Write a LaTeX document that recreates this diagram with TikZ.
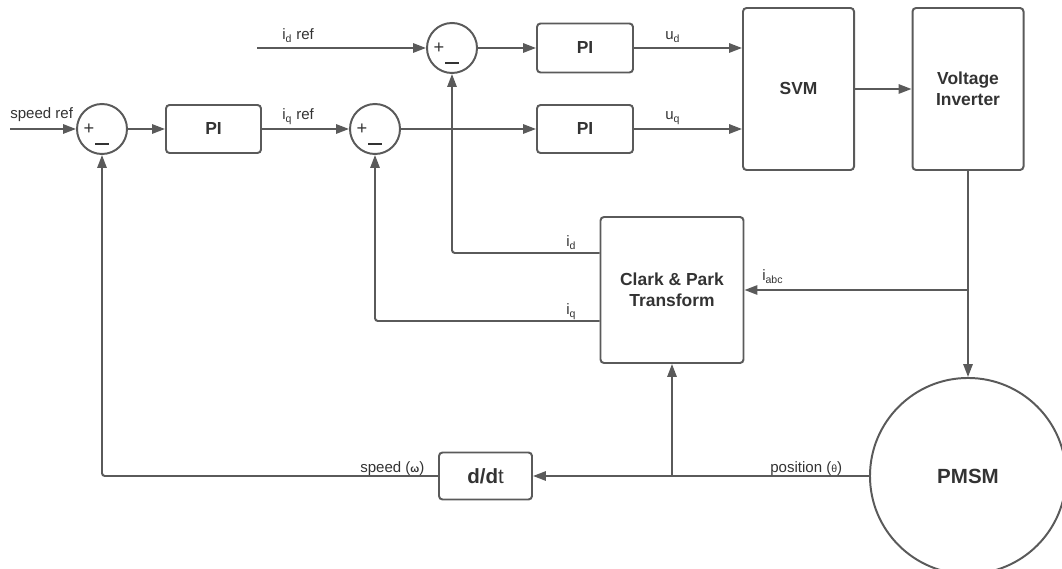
\documentclass[tikz,border=0pt]{standalone}
\usepackage{fontspec}
\setmainfont{Liberation Sans}
\usepackage{xcolor}
\usetikzlibrary{arrows.meta,positioning,calc}
\definecolor{ln}{HTML}{5A5A5A}
\definecolor{tx}{HTML}{333333}
\tikzset{
  blk/.style 2 args={draw=ln, line width=1.4pt, rounded corners=2.5pt, align=center, text=tx,
    inner sep=0pt, font=\fontsize{12.4}{15}\selectfont\bfseries,
    minimum width=#1*0.025cm, minimum height=#2*0.025cm},
  big/.style={font=\fontsize{14.6}{17}\selectfont\bfseries},
  sumnode/.style={draw=ln, circle, line width=1.4pt, minimum size=1.25cm, inner sep=0pt},
  sgn/.style={text=tx, font=\fontsize{13}{13}\selectfont, inner sep=0pt},
  bar/.style={draw=tx, line width=1.5pt},
  sig/.style={draw=ln, line width=1.4pt, rounded corners=2pt, -{Triangle[length=3.2mm, width=2.3mm]}},
  lbl/.style={text=tx, font=\fontsize{10.7}{12}\selectfont, inner sep=0pt, anchor=base west},
}
\newcommand{\sumj}[3]{%
  \node[sumnode] (#1) at (#2,#3) {};
  \node[sgn] at ($(#1)+(-13,0)$) {+};
  \draw[bar] ($(#1)+(-7,15)$) -- ($(#1)+(7,15)$);
}
\newcommand{\sub}[1]{\textsubscript{#1}}
\newcommand{\gk}[1]{{\fontsize{7.5}{9}\selectfont #1}}

\begin{document}
\begin{tikzpicture}[x=0.025cm, y=-0.025cm]
  \useasboundingbox (0,0) rectangle (1062,569);
  \clip (0,0) rectangle (1062,569);
  % summing junctions
  \sumj{s1}{102}{129}
  \sumj{s2}{375}{129}
  \sumj{s3}{452}{48}
  % blocks
  \node[blk={95}{48}] (pis) at (213.5,129) {PI};
  \node[blk={96}{49}] (pid) at (585,48) {PI};
  \node[blk={96}{48}] (piq) at (585,129) {PI};
  \node[blk={111}{162}] (svm) at (798.5,89) {SVM};
  \node[blk={111}{162}] (vi) at (968,89) {Voltage\\Inverter};
  \node[blk={143}{146}] (cp) at (672,290) {Clark \& Park\\Transform};
  \node[blk={93}{47}, big] (ddt) at (485.5,476) {d/d\textmd{t}};
  \node[draw=ln, circle, line width=1.4pt, minimum size=4.9cm, inner sep=0pt, text=tx, big] (pmsm) at (968,476) {PMSM};
  % free ends
  \coordinate (sref) at (10,129);
  \coordinate (idref) at (257,48);
  \coordinate (tap) at (968,290);
  \coordinate (ptap) at (cp.south |- pmsm.west);
  % forward path
  \draw[sig] (sref) -- (s1.west);
  \draw[sig] (s1.east) -- (pis.west);
  \draw[sig] (pis.east) -- (s2.west);
  \draw[sig] (idref) -- (s3.west);
  \draw[sig] (s3.east) -- (pid.west);
  \draw[sig] (s2.east) -- (piq.west);
  \draw[sig] (pid.east) -- (pid.east -| svm.west);
  \draw[sig] (piq.east) -- (piq.east -| svm.west);
  \draw[sig] (svm.east) -- (vi.west);
  \draw[sig] (vi.south) -- (pmsm.north);
  % feedback
  \draw[sig] (tap) -- (tap -| cp.east);
  \draw[sig] (pmsm.west) -- (ddt.east);
  \draw[sig] (ptap) -- (cp.south);
  \draw[sig] (ddt.west) -| (s1.south);
  \draw[sig] ($(cp.west)+(0,-37)$) -| (s3.south);
  \draw[sig] ($(cp.west)+(0,31)$) -| (s2.south);
  % labels
  \node[lbl] (lsref) at (10,119) {speed ref};
  \node[lbl] (lidref) at (282,40) {i\sub{d} ref};
  \node[lbl] (liqref) at (282,120) {i\sub{q} ref};
  \node[lbl] (lud) at (665,40) {u\sub{d}};
  \node[lbl] (luq) at (665,120) {u\sub{q}};
  \node[lbl] (lid) at (566,247) {i\sub{d}};
  \node[lbl] (liq) at (566,315) {i\sub{q}};
  \node[lbl] (liabc) at (762,281) {i\sub{abc}};
  \node[lbl] (lspd) at (360,472) {speed (\gk{\textbf{ω}})};
  \node[lbl] (lpos) at (770,472) {position (\gk{θ})};
\end{tikzpicture}
\end{document}
